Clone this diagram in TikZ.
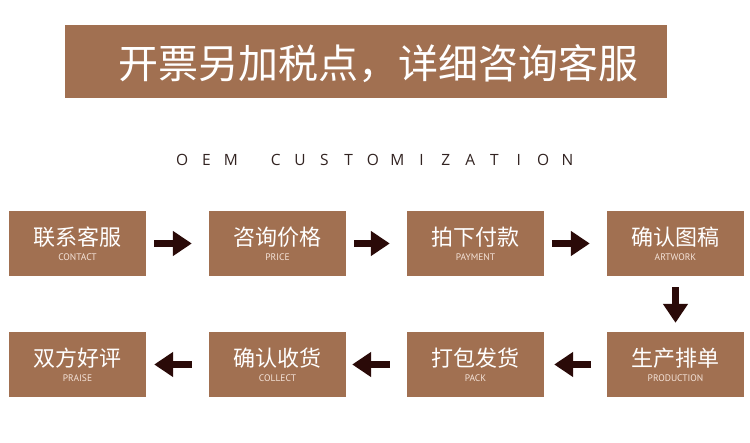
\documentclass[tikz,border=0pt]{standalone}
\usepackage{fontspec}
\setmainfont{Noto Sans CJK SC}
\newfontfamily\cjk{Noto Sans CJK SC}
\newfontfamily\oemfont{Open Sans}
\newfontfamily\subfont{PT Sans}
\newcommand{\oemslot}[1]{\makebox[24.3pt][c]{#1}}
\usetikzlibrary{arrows.meta}
\definecolor{boxbrown}{RGB}{161,112,81}
\definecolor{arrowdark}{RGB}{42,10,8}
\definecolor{oemtext}{RGB}{50,35,33}
\definecolor{subtext}{RGB}{245,228,218}
\tikzset{
  stepbox/.style={fill=boxbrown, draw=none, minimum width=137pt, minimum height=65pt, inner sep=0pt},
  flow/.style={draw=arrowdark, line width=7.5pt, -{Triangle[length=19pt,width=24pt]}},
  cn/.style={font=\cjk\fontsize{22}{22}\selectfont, text=white, inner sep=0pt},
  en/.style={font=\subfont\fontsize{9.5}{10}\selectfont, text=subtext, inner sep=0pt}
}
\begin{document}
\begin{tikzpicture}[x=1pt,y=-1pt]
\useasboundingbox[fill=white] (0,0) rectangle (750,443);
% banner
\node[fill=boxbrown, minimum width=602pt, minimum height=73pt, inner sep=0pt] (banner) at (366,61.5) {};
\node[font=\cjk\fontsize{40}{40}\selectfont, text=white, inner sep=0pt] (bannertext) at (378,64) {开票另加税点，详细咨询客服};
% subtitle
\node[font=\oemfont\fontsize{15.5}{15.5}\selectfont, text=oemtext, inner sep=0pt, anchor=west] (oem) at (169.85,160)
  {\oemslot{O}\oemslot{E}\oemslot{M}\hspace{20.7pt}\oemslot{C}\oemslot{U}\oemslot{S}\oemslot{T}\oemslot{O}\oemslot{M}\oemslot{I}\oemslot{Z}\oemslot{A}\oemslot{T}\oemslot{I}\oemslot{O}\oemslot{N}};
% boxes
\node[stepbox] (b1) at (77.5,243.5) {};
\node[stepbox] (b2) at (277.5,243.5) {};
\node[stepbox] (b3) at (475.5,243.5) {};
\node[stepbox] (b4) at (675.5,243.5) {};
\node[stepbox] (b5) at (675.5,364.5) {};
\node[stepbox] (b6) at (475.5,364.5) {};
\node[stepbox] (b7) at (277.5,364.5) {};
\node[stepbox] (b8) at (77.5,364.5) {};
% texts
\foreach \b/\c/\e in {b1/联系客服/CONTACT, b2/咨询价格/PRICE, b3/拍下付款/PAYMENT, b4/确认图稿/ARTWORK, b5/生产排单/PRODUCTION, b6/打包发货/PACK, b7/确认收货/COLLECT, b8/双方好评/PRAISE}{
  \node[cn] (\b c) at ([yshift=6.5pt]\b.center) {\c};
  \node[en] (\b e) at ([yshift=-13.5pt]\b.center) {\e};
}
% arrows
\draw[flow, shorten <=8pt, shorten >=17pt] (b1.east) -- (b2.west);
\draw[flow, shorten <=8pt, shorten >=17pt] (b2.east) -- (b3.west);
\draw[flow, shorten <=8pt, shorten >=17pt] (b3.east) -- (b4.west);
\draw[flow, shorten <=11pt, shorten >=9pt] (b4.south) -- (b5.north);
\draw[flow, shorten <=16pt, shorten >=10pt] (b5.west) -- (b6.east);
\draw[flow, shorten <=17pt, shorten >=6pt] (b6.west) -- (b7.east);
\draw[flow, shorten <=17pt, shorten >=8pt] (b7.west) -- (b8.east);
\end{tikzpicture}
\end{document}
